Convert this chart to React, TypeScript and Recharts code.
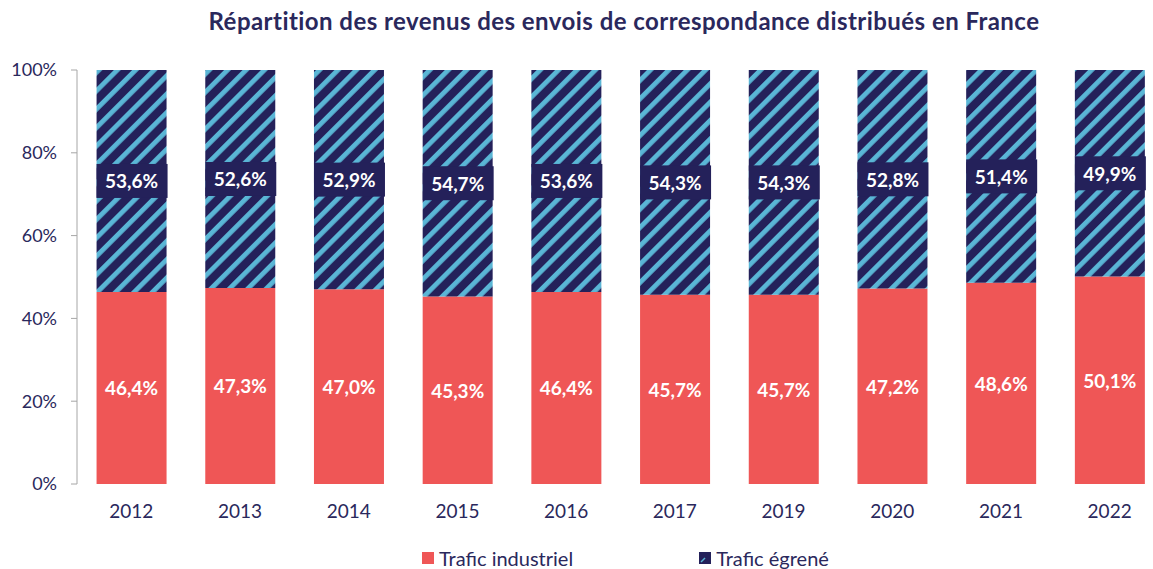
import { BarChart, Bar, XAxis, YAxis, LabelList } from 'recharts';

const years = ['2012', '2013', '2014', '2015', '2016', '2017', '2019', '2020', '2021', '2022'];
const industriel = [46.4, 47.3, 47.0, 45.3, 46.4, 45.7, 45.7, 47.2, 48.6, 50.1];
const egrene = [53.6, 52.6, 52.9, 54.7, 53.6, 54.3, 54.3, 52.8, 51.4, 49.9];
const yTicks = [0, 0.2, 0.4, 0.6, 0.8, 1];
const boundaryTicks = [0, 1, 2, 3, 4, 5, 6, 7, 8, 9, 10];

const RED = '#EF5656';
const NAVY = '#24215A';
const STRIPE = '#5AB6D6';
const AXIS = '#A6A6A6';
const TEXT = '#2A285C';
const FONT = 'Lato, "Open Sans", sans-serif';

const fmt = (v: number) => `${v.toFixed(1).replace('.', ',')}%`;

const data = years.map((year, i) => ({
  year,
  industriel: industriel[i],
  egrene: egrene[i],
  industrielLabel: fmt(industriel[i]),
  egreneLabel: fmt(egrene[i]),
}));

const RedLabel = (props: any) => {
  const { x, y, width, height, value } = props;
  return (
    <text
      x={x + width / 2}
      y={y + height / 2}
      textAnchor="middle"
      dominantBaseline="central"
      fill="#fff"
      fontWeight={700}
      fontSize={19}
      fontFamily={FONT}
    >
      {value}
    </text>
  );
};

// dark box behind the égrené labels
const BoxLabel = (props: any) => {
  const { x, y, width, height, value } = props;
  const cy = y + height / 2;
  return (
    <g>
      <rect x={x} y={cy - 17} width={width + 1} height={34} fill={NAVY} />
      <text
        x={x + width / 2}
        y={cy}
        textAnchor="middle"
        dominantBaseline="central"
        fill="#fff"
        fontWeight={700}
        fontSize={19}
        fontFamily={FONT}
      >
        {value}
      </text>
    </g>
  );
};

const App = () => {
  return (
    <div
      style={{
        position: 'fixed',
        left: 0,
        top: 0,
        width: 1153,
        height: 569,
        overflow: 'hidden',
        background: '#fff',
      }}
    >
      <div
        style={{
          position: 'absolute',
          left: 0,
          width: 1248,
          top: 9,
          textAlign: 'center',
          fontFamily: FONT,
          fontWeight: 700,
          fontSize: 24,
          letterSpacing: 0.45,
          lineHeight: 1,
          color: TEXT,
        }}
      >
        Répartition des revenus des envois de correspondance distribués en France
      </div>
      <BarChart
        width={1175}
        height={569}
        data={data}
        stackOffset="expand"
        barCategoryGap="18%"
        margin={{ top: 70, right: 11, left: 0, bottom: 45 }}
      >
        <defs>
          <pattern
            id="hatch"
            patternUnits="userSpaceOnUse"
            width={13}
            height={13}
            patternTransform="rotate(45)"
          >
            <rect width={13} height={13} fill={NAVY} />
            <rect x={0} width={4.8} height={13} fill={STRIPE} />
          </pattern>
        </defs>
        <XAxis
          xAxisId="grid"
          type="number"
          domain={[0, 10]}
          ticks={boundaryTicks}
          allowDataOverflow
          tick={false}
          height={0}
          tickSize={6}
          axisLine={{ stroke: AXIS }}
          tickLine={{ stroke: AXIS }}
        />
        <XAxis
          xAxisId="cat"
          dataKey="year"
          axisLine={false}
          tickLine={false}
          tickSize={0}
          tickMargin={21}
          height={40}
          tick={{ fill: TEXT, fontSize: 19, fontFamily: FONT }}
        />
        <YAxis
          domain={[0, 1]}
          ticks={yTicks}
          width={77}
          tickSize={6}
          tickMargin={14}
          axisLine={{ stroke: AXIS }}
          tickLine={{ stroke: AXIS }}
          tickFormatter={(v: number) => `${Math.round(v * 100)}%`}
          tick={{ fill: TEXT, fontSize: 18, fontFamily: FONT }}
        />
        <Bar
          xAxisId="cat"
          dataKey="industriel"
          name="Trafic industriel"
          stackId="a"
          fill={RED}
          isAnimationActive={false}
        >
          <LabelList dataKey="industrielLabel" content={RedLabel} />
        </Bar>
        <Bar
          xAxisId="cat"
          dataKey="egrene"
          name="Trafic égrené"
          stackId="a"
          fill="url(#hatch)"
          isAnimationActive={false}
        >
          <LabelList dataKey="egreneLabel" content={BoxLabel} />
        </Bar>
      </BarChart>
      <div
        style={{
          position: 'absolute',
          top: 547,
          left: 422,
          display: 'flex',
          gap: 126,
          fontFamily: FONT,
          fontSize: 20,
          lineHeight: '22px',
          color: TEXT,
        }}
      >
        <div style={{ display: 'flex', alignItems: 'center', gap: 5 }}>
          <span style={{ width: 12, height: 12, background: RED, display: 'inline-block' }} />
          <span>Trafic industriel</span>
        </div>
        <div style={{ display: 'flex', alignItems: 'center', gap: 5 }}>
          <svg width={12} height={12}>
            <rect width={12} height={12} fill={NAVY} />
            <path d="M2 10 L6 6" stroke={STRIPE} strokeWidth={1.5} />
          </svg>
          <span>Trafic égrené</span>
        </div>
      </div>
    </div>
  );
};

export default App;
